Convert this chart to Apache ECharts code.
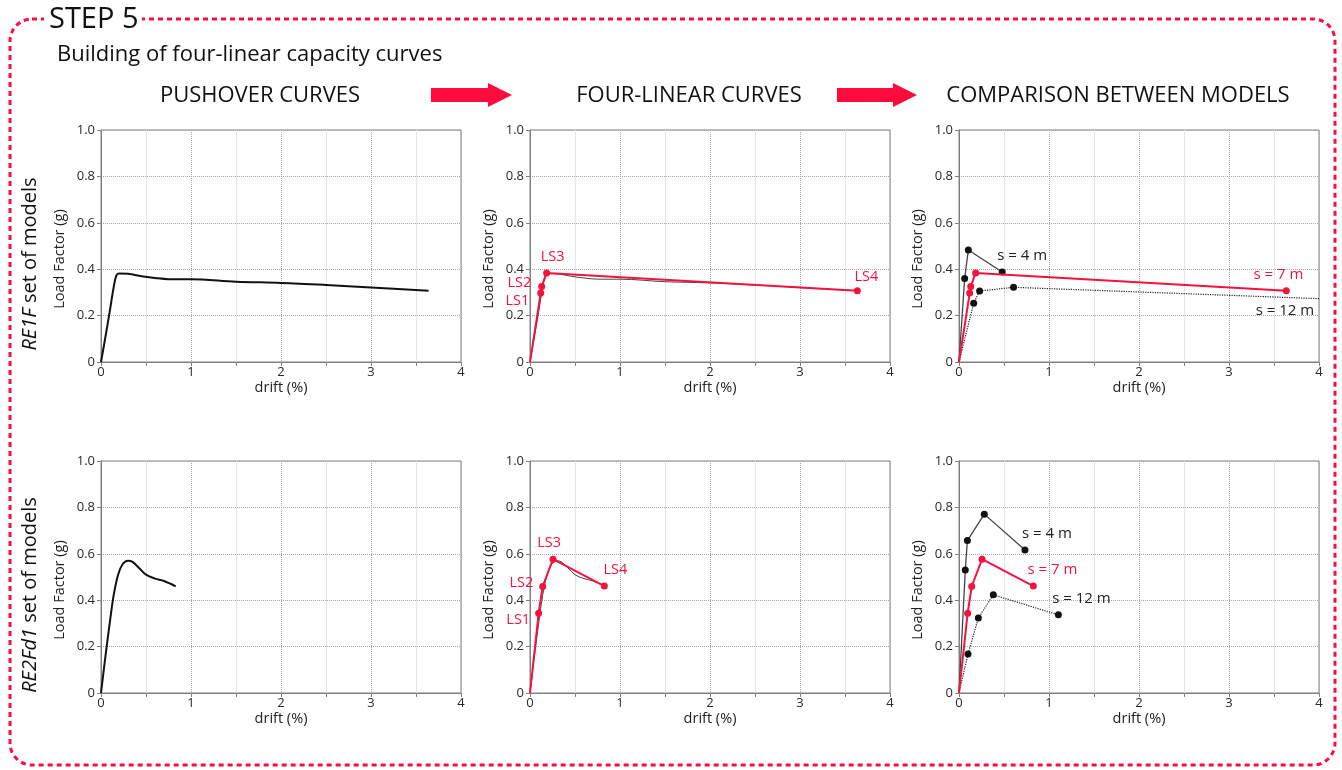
<!DOCTYPE html>
<html>
<head>
<meta charset="utf-8">
<title>STEP 5 - four-linear capacity curves</title>
<script src="https://cdn.jsdelivr.net/npm/echarts@6/dist/echarts.min.js"></script>
<style>
  html, body { margin: 0; padding: 0; background: #fff; }
  #main { width: 1342px; height: 770px; }
</style>
</head>
<body>
<div id="main"></div>
<script>
// ---- data (drift %, load factor g) ----
var pushRE1F = [[0, 0], [0.05, 0.11], [0.1, 0.225], [0.14, 0.32], [0.17, 0.372], [0.2, 0.381], [0.3, 0.38],
  [0.45, 0.37], [0.6, 0.362], [0.75, 0.357], [1.0, 0.357], [1.5, 0.346], [2.0, 0.341], [2.5, 0.332],
  [3.0, 0.321], [3.64, 0.307]];
var pushRE2Fd1 = [[0, 0], [0.05, 0.16], [0.1, 0.31], [0.14, 0.42], [0.19, 0.51], [0.24, 0.555], [0.3, 0.57],
  [0.35, 0.565], [0.42, 0.54], [0.5, 0.51], [0.6, 0.493], [0.7, 0.483], [0.83, 0.46]];

// four-linear fits (origin, LS1..LS4) = the s = 7 m models
var fourRE1F = [[0, 0], [0.119, 0.297], [0.13, 0.325], [0.185, 0.384], [3.637, 0.307]];
var fourRE2Fd1 = [[0, 0], [0.096, 0.344], [0.141, 0.459], [0.256, 0.577], [0.826, 0.461]];

// comparison between models
var re1fS4 = [[0, 0], [0.063, 0.36], [0.104, 0.483], [0.48, 0.388]];
var re1fS12 = [[0, 0], [0.163, 0.253], [0.229, 0.306], [0.606, 0.322], [4.0, 0.273]];
var re2S4 = [[0, 0], [0.07, 0.53], [0.093, 0.657], [0.281, 0.771], [0.733, 0.616]];
var re2S12 = [[0, 0], [0.1, 0.168], [0.215, 0.323], [0.381, 0.423], [1.104, 0.337]];

var lsNames = ['', 'LS1', 'LS2', 'LS3', 'LS4'];
var sNames = ['s = 4 m', 's = 7 m', 's = 12 m'];
var colTitles = ['PUSHOVER CURVES', 'FOUR-LINEAR CURVES', 'COMPARISON BETWEEN MODELS'];
var xTicks = [0, 1, 2, 3, 4];

// ---- styling ----
var FONT = '"Open Sans", sans-serif';
var RED = '#f5123f';
var AX = '#808080';
var COL_LEFT = [101, 530, 959];
var ROW_TOP = [130, 461];
var GW = 360, GH = 232;

var grids = [], xAxes = [], yAxes = [], series = [];
for (var r = 0; r < 2; r++) {
  for (var c = 0; c < 3; c++) {
    var gi = r * 3 + c;
    grids.push({
      left: COL_LEFT[c], top: ROW_TOP[r], width: GW, height: GH,
      show: true, borderColor: AX, borderWidth: 1
    });
    xAxes.push({
      gridIndex: gi, type: 'value', min: 0, max: 4, interval: 1,
      name: 'drift (%)', nameLocation: 'middle', nameGap: 17,
      nameTextStyle: { fontSize: 14.5, color: '#222', fontFamily: FONT },
      axisLine: { show: true, lineStyle: { color: AX } },
      axisTick: { show: true, length: 4, lineStyle: { color: AX } },
      minorTick: { show: true, splitNumber: 2, length: 4, lineStyle: { color: AX } },
      axisLabel: {
        fontSize: 13, color: '#2a2a2a', fontFamily: FONT, margin: 4,
        formatter: function (v) { return xTicks.indexOf(v) >= 0 ? String(v) : ''; }
      },
      splitLine: { show: true, lineStyle: { color: '#a8a8a8', type: 'dotted' } },
      minorSplitLine: { show: true, lineStyle: { color: '#e4e4e4' } }
    });
    yAxes.push({
      gridIndex: gi, type: 'value', min: 0, max: 1, interval: 0.2,
      name: 'Load Factor (g)', nameLocation: 'middle', nameGap: 34,
      nameTextStyle: { fontSize: 14.5, color: '#222', fontFamily: FONT, padding: [0, 26, 0, 0] },
      axisLine: { show: true, lineStyle: { color: AX } },
      axisTick: { show: true, length: 4, lineStyle: { color: AX } },
      axisLabel: {
        fontSize: 13, color: '#2a2a2a', fontFamily: FONT, margin: 6,
        formatter: function (v) { return v === 0 ? '0' : v.toFixed(1); }
      },
      splitLine: { show: true, lineStyle: { color: '#a8a8a8', type: 'dotted' } }
    });
  }
}

// turn [x,y] pairs into data items; origin gets no marker, hidden ones get a zero-size marker
function items(points, labels, labelCfg, hidden) {
  return points.map(function (p, i) {
    var it = { value: p };
    if (i === 0) { it.symbol = 'none'; }
    if (hidden && hidden.indexOf(i) >= 0) { it.symbolSize = 0.01; }
    if (labels && labels[i] && labelCfg && labelCfg[i]) {
      it.label = Object.assign({ show: true, formatter: labels[i] }, labelCfg[i]);
    }
    return it;
  });
}
function lastLabel(points, text, pos, offset, color) {
  var labels = points.map(function () { return ''; });
  var cfg = points.map(function () { return null; });
  var k = points.length - 1;
  labels[k] = text;
  cfg[k] = { position: pos, offset: offset, color: color, fontSize: 15, fontFamily: FONT, distance: 5 };
  return { labels: labels, cfg: cfg };
}

function pushSeries(gi, data, width, color) {
  series.push({
    type: 'line', xAxisIndex: gi, yAxisIndex: gi, data: data,
    smooth: 0.35, showSymbol: false, symbol: 'none',
    lineStyle: { color: color, width: width }, z: 2, silent: true
  });
}
function lsCfg(list) {
  return list.map(function (o) {
    return o ? { position: o[0], offset: o[1], color: RED, fontSize: 14.5, fontFamily: FONT, distance: 5 } : null;
  });
}
function redSeries(gi, pts, labels, cfg) {
  series.push({
    type: 'line', xAxisIndex: gi, yAxisIndex: gi, data: items(pts, labels, cfg),
    symbol: 'circle', symbolSize: 7, itemStyle: { color: RED },
    lineStyle: { color: RED, width: 2 }, z: 4, silent: true
  });
}
function blackSeries(gi, pts, labels, cfg, dotted, hidden) {
  series.push({
    type: 'line', xAxisIndex: gi, yAxisIndex: gi, data: items(pts, labels, cfg, hidden),
    symbol: 'circle', symbolSize: 7, itemStyle: { color: '#111' },
    lineStyle: { color: dotted ? '#222' : '#444', width: dotted ? 1.2 : 1.3, type: dotted ? 'dotted' : 'solid' },
    z: 3, silent: true
  });
}

// row 1: RE1F
pushSeries(0, pushRE1F, 2, '#111');
pushSeries(1, pushRE1F, 1, '#444');
redSeries(1, fourRE1F, lsNames, lsCfg([null,
  ['left', [-3, 8]], ['left', [-2, -4]], ['top', [6, 0]], ['top', [9, 2]]]));
var l;
l = lastLabel(re1fS4, sNames[0], 'top', [20, 0], '#222');
blackSeries(2, re1fS4, l.labels, l.cfg, false);
l = lastLabel(re1fS12, sNames[2], 'bottom', [-34, 0], '#222');
blackSeries(2, re1fS12, l.labels, l.cfg, true, [re1fS12.length - 1]);
l = lastLabel(fourRE1F, sNames[1], 'top', [-8, 0], RED);
redSeries(2, fourRE1F, l.labels, l.cfg);

// row 2: RE2Fd1
pushSeries(3, pushRE2Fd1, 2, '#111');
pushSeries(4, pushRE2Fd1, 1, '#444');
redSeries(4, fourRE2Fd1, lsNames, lsCfg([null,
  ['left', [0, 7]], ['left', [-1, -4]], ['top', [-4, 0]], ['top', [11, 0]]]));
l = lastLabel(re2S4, sNames[0], 'top', [22, 0], '#222');
blackSeries(5, re2S4, l.labels, l.cfg, false);
l = lastLabel(re2S12, sNames[2], 'top', [23, 0], '#222');
blackSeries(5, re2S12, l.labels, l.cfg, true);
l = lastLabel(fourRE2Fd1, sNames[1], 'top', [19, 0], RED);
redSeries(5, fourRE2Fd1, l.labels, l.cfg);

// ---- frame, headings, arrows ----
function arrow(x0, x1, xh, yc) {
  return {
    type: 'polygon',
    shape: { points: [[x0, yc - 7], [xh, yc - 7], [xh, yc - 12], [x1, yc], [xh, yc + 12], [xh, yc + 7], [x0, yc + 7]] },
    style: { fill: '#ff0a3c' }
  };
}
function txt(x, y, s, size, align) {
  return {
    type: 'text', x: x, y: y,
    style: { text: s, fontSize: size, fontFamily: FONT, fill: '#111', align: align || 'center', verticalAlign: 'middle' }
  };
}
function rowLabel(y, code) {
  return {
    type: 'text', x: 30, y: y, rotation: Math.PI / 2,
    style: {
      text: '{i|' + code + '} set of models', fontSize: 20, fontFamily: FONT, fill: '#111',
      align: 'center', verticalAlign: 'middle',
      rich: { i: { fontStyle: 'italic', fontSize: 20, fontFamily: FONT, fill: '#111' } }
    }
  };
}

var graphics = [
  {
    type: 'rect', shape: { x: 10, y: 19, width: 1325, height: 746, r: 22 },
    style: { fill: 'none', stroke: '#ff0a45', lineWidth: 3, lineDash: [5, 4] }
  },
  { type: 'rect', shape: { x: 44, y: 6, width: 98, height: 28 }, style: { fill: '#fff' } },
  txt(49, 20, 'STEP 5', 29, 'left'),
  txt(57, 55, 'Building of four-linear capacity curves', 22, 'left'),
  txt(260, 96, colTitles[0], 22),
  txt(689, 96, colTitles[1], 22),
  txt(1118, 96, colTitles[2], 22),
  arrow(431, 512, 488, 95),
  arrow(837, 917, 893, 95),
  rowLabel(264, 'RE1F'),
  rowLabel(595, 'RE2Fd1')
];

var chart = echarts.init(document.getElementById('main'), null, { renderer: 'canvas' });
chart.setOption({
  backgroundColor: '#fff',
  animation: false,
  textStyle: { fontFamily: FONT },
  grid: grids,
  xAxis: xAxes,
  yAxis: yAxes,
  series: series,
  graphic: graphics
});
window.addEventListener('resize', function () { chart.resize(); });
</script>
</body>
</html>
